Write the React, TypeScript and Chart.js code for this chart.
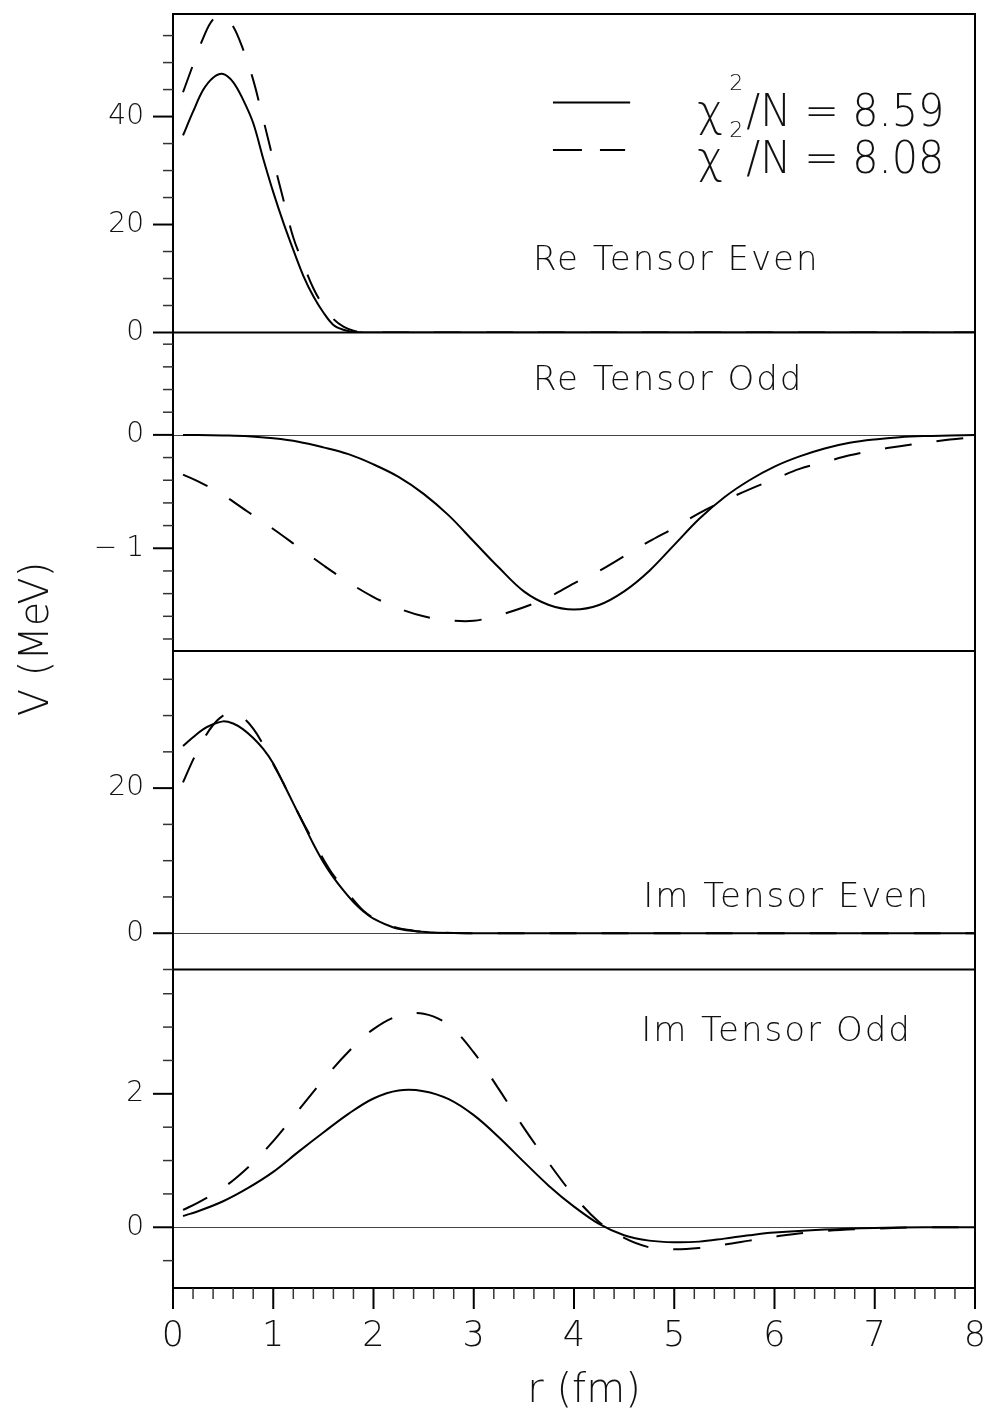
import React, { useEffect, useRef } from 'react';
import { Chart, registerables } from 'chart.js';

Chart.register(...registerables);

// ---------- data ----------
// Re Tensor Even
const r1 = [0.1, 0.2, 0.3, 0.4, 0.5, 0.6, 0.7, 0.8, 0.9, 1.0, 1.1, 1.2, 1.3, 1.4, 1.5, 1.6, 1.7, 1.8, 1.9, 2.0, 3, 4, 5, 6, 7, 8];
const reEvenA = [36.5, 40.9, 44.9, 47.2, 47.9, 46.4, 43.1, 38.8, 32.2, 26.0, 20.4, 15.3, 10.5, 6.7, 3.7, 1.4, 0.5, 0.1, 0.02, 0, 0, 0, 0, 0, 0, 0];
const reEvenB = [44.5, 49.6, 54.5, 58.0, 58.6, 56.7, 52.4, 46.8, 39.5, 32.0, 24.7, 17.6, 12.7, 8.2, 4.9, 2.5, 1.1, 0.35, 0.05, 0, 0, 0, 0, 0, 0, 0];

// Re Tensor Odd
const r2 = [0.1, 0.25, 0.5, 0.75, 1.0, 1.25, 1.5, 1.75, 2.0, 2.25, 2.5, 2.75, 3.0, 3.25, 3.5, 3.75, 4.0, 4.25, 4.5, 4.75, 5.0, 5.25, 5.5, 5.75, 6.0, 6.25, 6.5, 6.75, 7.0, 7.25, 7.5, 7.75, 8.0];
const reOddA = [0, -0.001, -0.005, -0.012, -0.03, -0.06, -0.11, -0.17, -0.26, -0.37, -0.52, -0.71, -0.94, -1.17, -1.38, -1.50, -1.54, -1.50, -1.38, -1.20, -0.97, -0.74, -0.55, -0.40, -0.28, -0.19, -0.12, -0.07, -0.04, -0.02, -0.01, -0.005, 0];
const reOddB = [-0.35, -0.41, -0.53, -0.68, -0.83, -0.99, -1.15, -1.30, -1.43, -1.53, -1.60, -1.635, -1.64, -1.59, -1.52, -1.43, -1.31, -1.20, -1.07, -0.94, -0.82, -0.69, -0.58, -0.48, -0.39, -0.30, -0.24, -0.18, -0.135, -0.10, -0.07, -0.04, -0.02];

// Im Tensor Even
const r3 = [0.1, 0.2, 0.3, 0.4, 0.5, 0.6, 0.7, 0.8, 0.9, 1.0, 1.1, 1.2, 1.3, 1.4, 1.5, 1.6, 1.7, 1.8, 1.9, 2.0, 2.2, 2.4, 2.6, 2.8, 3.0, 4, 5, 6, 7, 8];
const imEvenA = [25.8, 27.0, 28.1, 28.8, 29.2, 28.9, 28.1, 26.9, 25.4, 23.4, 20.7, 17.9, 15.1, 12.3, 9.8, 7.7, 5.9, 4.3, 3.0, 2.0, 0.8, 0.3, 0.1, 0.03, 0.01, 0, 0, 0, 0, 0];
const imEvenB = [20.8, 23.9, 26.6, 28.7, 30.0, 30.4, 29.7, 28.2, 26.0, 23.3, 20.7, 17.9, 15.2, 12.7, 10.2, 8.0, 6.3, 4.6, 3.1, 2.1, 0.9, 0.35, 0.12, 0.03, 0.01, 0, 0, 0, 0, 0];

// Im Tensor Odd
const r4 = [0.1, 0.25, 0.5, 0.75, 1.0, 1.25, 1.5, 1.75, 2.0, 2.25, 2.5, 2.75, 3.0, 3.25, 3.5, 3.75, 4.0, 4.25, 4.5, 4.75, 5.0, 5.25, 5.5, 5.75, 6.0, 6.5, 7.0, 7.5, 8.0];
const imOddA = [0.17, 0.24, 0.39, 0.59, 0.83, 1.13, 1.42, 1.70, 1.93, 2.05, 2.04, 1.92, 1.68, 1.35, 0.98, 0.62, 0.31, 0.05, -0.12, -0.20, -0.225, -0.215, -0.17, -0.12, -0.08, -0.035, -0.01, 0, 0];
const imOddB = [0.26, 0.37, 0.59, 0.90, 1.29, 1.75, 2.21, 2.63, 2.97, 3.17, 3.20, 3.03, 2.62, 2.07, 1.49, 0.96, 0.47, 0.08, -0.16, -0.30, -0.33, -0.31, -0.26, -0.20, -0.14, -0.055, -0.02, 0, 0];

// ticks
const xMajor = [0, 1, 2, 3, 4, 5, 6, 7, 8];
const xMinor = [0.2, 0.4, 0.6, 0.8, 1.2, 1.4, 1.6, 1.8, 2.2, 2.4, 2.6, 2.8, 3.2, 3.4, 3.6, 3.8, 4.2, 4.4, 4.6, 4.8, 5.2, 5.4, 5.6, 5.8, 6.2, 6.4, 6.6, 6.8, 7.2, 7.4, 7.6, 7.8];
const y1Major = [0, 20, 40];
const y1Minor = [5, 10, 15, 25, 30, 35, 45, 50, 55];
const y2Major = [-1, 0];
const y2Minor = [-1.8, -1.6, -1.4, -1.2, -0.8, -0.6, -0.4, -0.2, 0.2, 0.4, 0.6, 0.8];
const y3Major = [0, 20];
const y3Minor = [-5, 5, 10, 15, 25, 30, 35];
const y4Major = [0, 2];
const y4Minor = [-0.5, 0.5, 1, 1.5, 2.5, 3, 3.5];

const panelLabels = ['Re Tensor Even', 'Re Tensor Odd', 'Im Tensor Even', 'Im Tensor Odd'];
const legendLabels = ['8.59', '8.08'];

// ---------- style ----------
const FONT = '"DejaVu Sans", sans-serif';
const W = 990;
const H = 1421;

const pts = (r: number[], v: number[]) => r.map((x, i) => ({ x, y: v[i] }));

const solid = (r: number[], v: number[], axis: string) => ({
  data: pts(r, v),
  yAxisID: axis,
  borderColor: '#000',
  borderWidth: 2,
  pointRadius: 0,
  tension: 0.35,
  fill: false,
});
const dashed = (r: number[], v: number[], axis: string) => ({
  ...solid(r, v, axis),
  borderDash: [27, 25],
});

const fmt = (v: number) => (v < 0 ? '\u2212 ' + Math.abs(v) : String(v));

const noPad = (s: any) => {
  s.paddingTop = 0;
  s.paddingBottom = 0;
  s.paddingLeft = 0;
  s.paddingRight = 0;
};

const yScale = (min: number, max: number, major: number[], weight: number) => ({
  type: 'linear' as const,
  position: 'left' as const,
  stack: 'v',
  stackWeight: 1,
  weight,
  min,
  max,
  bounds: 'data' as const,
  afterFit: (s: any) => {
    s.width = 173;
    noPad(s);
  },
  afterBuildTicks: (s: any) => {
    s.ticks = major.map((value) => ({ value }));
  },
  grid: { display: false, drawTicks: false },
  border: { display: false },
  ticks: {
    autoSkip: false,
    padding: 29,
    color: '#111',
    font: { family: FONT, size: 28, weight: 200 as any },
    callback: (v: any) => fmt(Number(v)),
  },
});

const framePlugin = {
  id: 'frame',
  beforeDatasetsDraw(chart: any) {
    const { ctx, chartArea } = chart;
    ctx.save();
    ctx.strokeStyle = '#444';
    ctx.lineWidth = 1;
    for (const id of ['y2', 'y3', 'y4']) {
      const y = Math.round(chart.scales[id].getPixelForValue(0)) + 0.5;
      ctx.beginPath();
      ctx.moveTo(chartArea.left, y);
      ctx.lineTo(chartArea.right, y);
      ctx.stroke();
    }
    ctx.restore();
  },
  afterDraw(chart: any) {
    const { ctx, chartArea } = chart;
    const { left, right, top, bottom } = chartArea;
    const xs = chart.scales.x;
    ctx.save();
    // frame
    ctx.strokeStyle = '#000';
    ctx.lineWidth = 2;
    ctx.strokeRect(left, top, right - left, bottom - top);
    for (const id of ['y1', 'y2', 'y3']) {
      const y = chart.scales[id].bottom;
      ctx.beginPath();
      ctx.moveTo(left, y);
      ctx.lineTo(right, y);
      ctx.stroke();
    }
    // y ticks
    const yTicks: [string, number[], number[]][] = [
      ['y1', y1Major, y1Minor],
      ['y2', y2Major, y2Minor],
      ['y3', y3Major, y3Minor],
      ['y4', y4Major, y4Minor],
    ];
    for (const [id, maj, min] of yTicks) {
      const s = chart.scales[id];
      ctx.strokeStyle = '#000';
      ctx.lineWidth = 2;
      for (const v of maj) {
        const y = s.getPixelForValue(v);
        ctx.beginPath();
        ctx.moveTo(left - 20, y);
        ctx.lineTo(left, y);
        ctx.stroke();
      }
      ctx.strokeStyle = '#333';
      ctx.lineWidth = 1.5;
      for (const v of min) {
        const y = s.getPixelForValue(v);
        ctx.beginPath();
        ctx.moveTo(left - 10, y);
        ctx.lineTo(left, y);
        ctx.stroke();
      }
    }
    // x ticks
    ctx.strokeStyle = '#000';
    ctx.lineWidth = 2;
    for (const v of xMajor) {
      const x = xs.getPixelForValue(v);
      ctx.beginPath();
      ctx.moveTo(x, bottom);
      ctx.lineTo(x, bottom + 21);
      ctx.stroke();
    }
    ctx.strokeStyle = '#333';
    ctx.lineWidth = 1.5;
    for (const v of xMinor) {
      const x = xs.getPixelForValue(v);
      ctx.beginPath();
      ctx.moveTo(x, bottom);
      ctx.lineTo(x, bottom + 11);
      ctx.stroke();
    }

    // panel labels
    ctx.fillStyle = '#111';
    ctx.textBaseline = 'middle';
    ctx.textAlign = 'left';
    ctx.font = `200 34px ${FONT}`;
    (ctx as any).letterSpacing = '2px';
    const lab: [string, number, number, string][] = [
      [panelLabels[0], 3.59, 13.3, 'y1'],
      [panelLabels[1], 3.59, 0.47, 'y2'],
      [panelLabels[2], 4.69, 4.8, 'y3'],
      [panelLabels[3], 4.67, 2.93, 'y4'],
    ];
    for (const [t, xv, yv, id] of lab) {
      ctx.fillText(t, xs.getPixelForValue(xv), chart.scales[id].getPixelForValue(yv));
    }
    (ctx as any).letterSpacing = '0px';

    // legend
    const y1 = chart.scales.y1;
    const lx0 = xs.getPixelForValue(3.79);
    const lx1 = xs.getPixelForValue(4.56);
    const lx1d = xs.getPixelForValue(4.51);
    const ly = [y1.getPixelForValue(42.6), y1.getPixelForValue(33.8)];
    ctx.strokeStyle = '#000';
    ctx.lineWidth = 2;
    ctx.beginPath();
    ctx.moveTo(lx0, ly[0]);
    ctx.lineTo(lx1, ly[0]);
    ctx.stroke();
    ctx.setLineDash([29, 18]);
    ctx.beginPath();
    ctx.moveTo(lx0, ly[1]);
    ctx.lineTo(lx1d, ly[1]);
    ctx.stroke();
    ctx.setLineDash([]);
    const tx = xs.getPixelForValue(5.23);
    ctx.textBaseline = 'alphabetic';
    for (let i = 0; i < 2; i++) {
      const base = ly[i] + 23;
      ctx.font = `200 44px ${FONT}`;
      ctx.fillText('\u03c7', tx, base);
      ctx.font = `200 22px ${FONT}`;
      ctx.fillText('2', tx + 32, base - 36);
      ctx.font = `200 44px ${FONT}`;
      ctx.fillText('/N = ' + legendLabels[i], tx + 49, base, 198);
    }

    // axis titles
    ctx.font = `200 40px ${FONT}`;
    ctx.textAlign = 'center';
    ctx.textBaseline = 'middle';
    ctx.fillText('r (fm)', xs.getPixelForValue(4.1), 1392);
    ctx.save();
    ctx.translate(38, 639);
    ctx.rotate(-Math.PI / 2);
    ctx.fillText('V (MeV)', 0, 0);
    ctx.restore();
    ctx.restore();
  },
};

export default function App() {
  const ref = useRef<HTMLCanvasElement>(null);
  useEffect(() => {
    if (!ref.current) return;
    const chart = new Chart(ref.current, {
      type: 'line',
      data: {
        datasets: [
          solid(r1, reEvenA, 'y1'),
          dashed(r1, reEvenB, 'y1'),
          solid(r2, reOddA, 'y2'),
          dashed(r2, reOddB, 'y2'),
          solid(r3, imEvenA, 'y3'),
          dashed(r3, imEvenB, 'y3'),
          solid(r4, imOddA, 'y4'),
          dashed(r4, imOddB, 'y4'),
        ] as any,
      },
      options: {
        responsive: false,
        animation: false,
        devicePixelRatio: 1,
        layout: { padding: { top: 14, right: 15, left: 0, bottom: 0 } },
        plugins: { legend: { display: false }, tooltip: { enabled: false } },
        events: [],
        scales: {
          x: {
            type: 'linear',
            position: 'bottom',
            min: 0,
            max: 8,
            bounds: 'data',
            afterFit: (s: any) => {
              s.height = 133;
              noPad(s);
            },
            afterBuildTicks: (s: any) => {
              s.ticks = xMajor.map((value) => ({ value }));
            },
            grid: { display: false, drawTicks: false },
            border: { display: false },
            ticks: {
              autoSkip: false,
              maxRotation: 0,
              padding: 28,
              color: '#111',
              font: { family: FONT, size: 35, weight: 200 as any },
            },
          },
          y1: yScale(0, 59, y1Major, 4),
          y2: yScale(-1.906, 0.903, y2Major, 3),
          y3: yScale(-5.0, 38.9, y3Major, 2),
          y4: yScale(-0.91, 3.863, y4Major, 1),
        } as any,
      },
      plugins: [framePlugin],
    });
    return () => chart.destroy();
  }, []);
  return (
    <div style={{ position: 'absolute', left: 0, top: 0, width: W, height: H, background: '#fff' }}>
      <canvas ref={ref} width={W} height={H} style={{ display: 'block', width: W, height: H }} />
    </div>
  );
}
